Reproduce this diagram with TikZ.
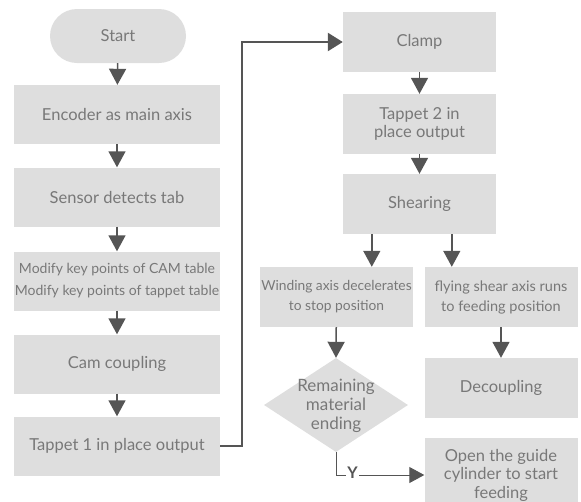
\documentclass[tikz,border=0pt]{standalone}
\usepackage{fontspec}
\setmainfont{Lato}
\usetikzlibrary{arrows.meta,shapes.geometric,calc}
\definecolor{boxfill}{HTML}{DEDEDE}
\definecolor{txt}{HTML}{787878}
\definecolor{arr}{HTML}{555555}
\begin{document}
\begin{tikzpicture}[x=1pt,y=-1pt,
  box/.style={fill=boxfill, text=txt, inner sep=0pt, align=center,
    font=\fontsize{16.5}{19}\selectfont},
  lbox/.style={box, minimum width=206pt, minimum height=59pt},
  rbox/.style={box, minimum width=153pt, minimum height=60pt},
  flow/.style={draw=arr, line width=1.5pt, -{Triangle[width=17pt,length=16pt]}},
  thinflow/.style={draw=arr, line width=1pt, -{Triangle[width=16pt,length=15pt]}}]
\useasboundingbox (0,0) rectangle (581,501);
% left column
\node[box, minimum width=136pt, minimum height=54pt, rounded corners=27pt] (start) at (118,36) {Start};
\node[lbox] (enc) at (117,114.5) {Encoder as main axis};
\node[lbox] (sens) at (117,197) {Sensor detects tab};
\node[lbox, font=\fontsize{14}{22}\selectfont] (mod) at (117,281) {Modify key points of CAM table\\Modify key points of tappet table};
\node[lbox] (cam) at (117,364) {Cam coupling};
\node[lbox] (tap1) at (117,446) {Tappet 1 in place output};
% right column
\node[rbox] (clamp) at (419.5,42) {Clamp};
\node[rbox, font=\fontsize{16.5}{18}\selectfont] (tap2) at (419.5,124) {Tappet 2 in\\place output};
\node[rbox] (shear) at (419.5,204) {Shearing};
\node[rbox, font=\fontsize{13.8}{20}\selectfont] (wind) at (336.5,297) {Winding axis decelerates\\to stop position};
\node[rbox, font=\fontsize{14.5}{20}\selectfont] (fly) at (501,297) {flying shear axis runs\\to feeding position};
\node[diamond, fill=boxfill, inner sep=0pt, minimum width=144pt, minimum height=94pt, aspect=1.53] (dia) at (336,405) {};
\node[text=txt, align=center, font=\fontsize{17}{19}\selectfont] (diat) at (336,406) {Remaining\\material\\ending};
\node[rbox] (dec) at (501,388) {Decoupling};
\node[rbox, minimum height=74pt, font=\fontsize{16.5}{18.5}\selectfont] (open) at (501,475) {Open the guide\\cylinder to start\\feeding};
% connectors
\draw[flow] (start) -- (enc);
\draw[flow] (enc) -- (sens);
\draw[flow] (sens) -- (mod);
\draw[flow] (mod) -- (cam);
\draw[flow] (cam) -- (tap1);
\draw[draw=arr, line width=2.5pt, -{Triangle[width=18pt,length=15pt]}] (tap1.east) -- ++(22,0) |- (clamp.west);
\draw[flow] (clamp) -- (tap2);
\draw[flow] (tap2) -- (shear);
\coordinate (s1) at ($(shear.south west)+(29,0)$);
\coordinate (s2) at ($(shear.south west)+(109,0)$);
\draw[flow] (s1) -- (s1 |- wind.north);
\draw[flow] (s2) -- (s2 |- fly.north);
\draw[flow] (wind) -- (dia.north);
\draw[flow] (fly) -- (dec);
\draw[thinflow] (dia.south) |- (open.west);
\node[fill=white, text=arr, inner sep=1.5pt, font=\fontsize{16}{19}\bfseries\selectfont] (y) at (352.5,473) {Y};
\end{tikzpicture}
\end{document}
